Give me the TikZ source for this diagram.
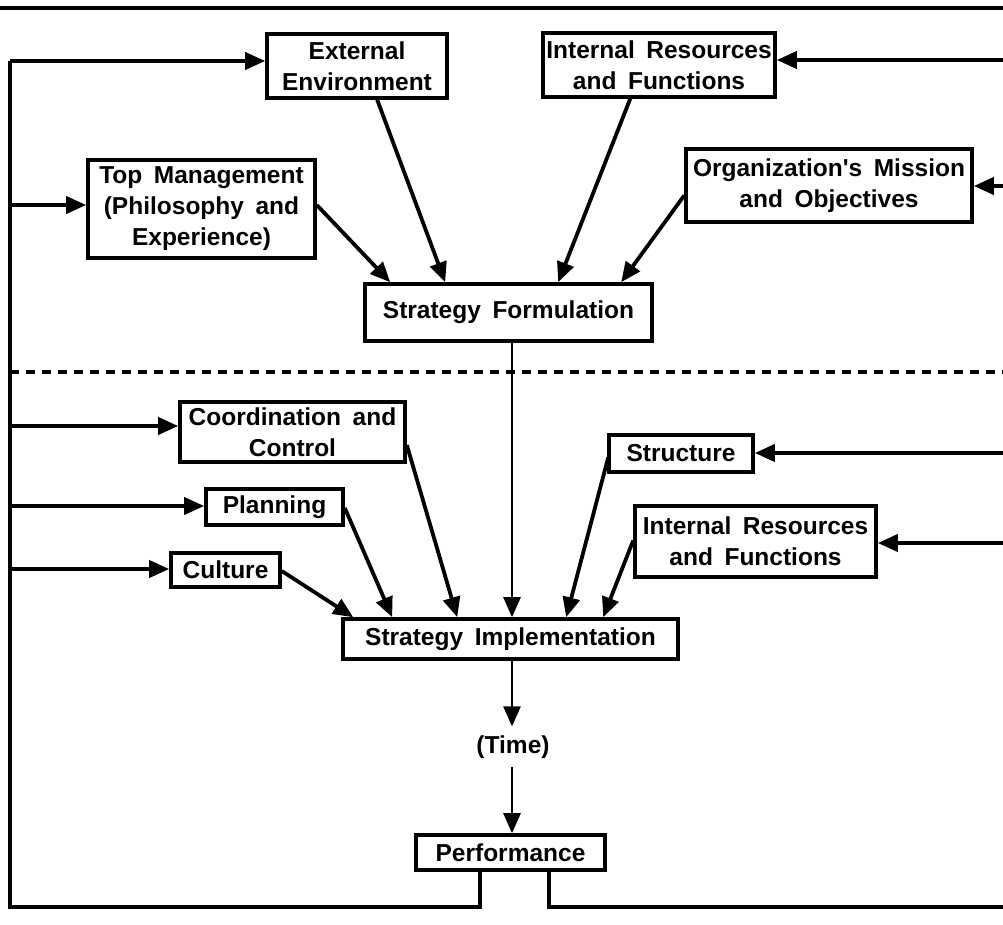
\documentclass[tikz,border=0pt]{standalone}
\usepackage{fontspec}
\setmainfont{Liberation Sans}[WordSpace=1.7]
\usetikzlibrary{arrows.meta,calc}
\begin{document}
\begin{tikzpicture}[x=1pt,y=-1pt,
  box/.style={draw,line width=3.6pt,inner sep=0pt,align=center,
    font=\bfseries\fontsize{24.5}{31}\selectfont},
  lbl/.style={inner sep=0pt,font=\bfseries\fontsize{24.5}{31}\selectfont},
  tip/.style={-{Triangle[length=20pt,width=17pt]}},
  arr/.style={line width=3.8pt,tip},
  wire/.style={line width=3.8pt},
  thin/.style={line width=2.6pt}]
\useasboundingbox (0,0) rectangle (1003,925);

% rule under the heading
\draw[line width=4pt] (0,8) -- (1003,8);

% boxes of the formulation stage
\node[box,minimum width=180pt,minimum height=64pt] (ext) at (357,66) {External\\Environment};
\node[box,minimum width=232pt,minimum height=64pt] (intT) at (659,65) {Internal Resources\\and Functions};
\node[box,minimum width=227pt,minimum height=98pt] (topm) at (201.5,209) {Top Management\\(Philosophy and\\Experience)};
\node[box,minimum width=286pt,minimum height=73pt] (miss) at (829,185.5) {Organization\textquotesingle s Mission\\and Objectives};
\node[box,minimum width=287pt,minimum height=57pt] (sf) at (508.5,312.5) {Strategy Formulation};

% boxes of the implementation stage
\node[box,minimum width=225pt,minimum height=60pt] (coord) at (292.5,432) {Coordination and\\Control};
\node[box,minimum width=137pt,minimum height=36pt] (plan) at (274.5,507) {Planning};
\node[box,minimum width=109pt,minimum height=34pt] (cult) at (225.5,570) {Culture};
\node[box,minimum width=144pt,minimum height=37pt] (struct) at (681,453.5) {Structure};
\node[box,minimum width=241pt,minimum height=71pt] (intB) at (755.5,541.5) {Internal Resources\\and Functions};
\node[box,minimum width=335pt,minimum height=40pt] (si) at (510.5,639) {Strategy Implementation};
\node[lbl] (time) at (513,747) {(Time)};
\node[box,minimum width=189pt,minimum height=35pt] (perf) at (510.5,852.5) {Performance};

% stage divider
\draw[line width=3.2pt,dash pattern=on 9pt off 7pt] (10,372) -- (1003,372);

% feedback loop corners
\coordinate (lt) at (10,61);
\coordinate (lb) at (10,907);
\coordinate (pl) at (480,907);
\coordinate (pr) at (549,907);
\coordinate (rb) at (1003,907);
\coordinate (r1) at (1003,60);
\coordinate (r2) at (1003,186);
\coordinate (r3) at (1003,453);
\coordinate (r4) at (1003,543);

\draw[wire] (perf.south -| pl) -- (pl) -- (lb) -- (lt);
\draw[wire] (perf.south -| pr) -- (pr) -- (rb);
\draw[arr] (lt) -- (lt -| ext.west);
\draw[arr] (10,205) -- (topm.west |- 10,205);
\draw[arr] (10,426) -- (coord.west |- 10,426);
\draw[arr] (10,506) -- (plan.west |- 10,506);
\draw[arr] (10,569) -- (cult.west |- 10,569);
\draw[arr] (r1) -- (r1 -| intT.east);
\draw[arr] (r2) -- (r2 -| miss.east);
\draw[arr] (r3) -- (r3 -| struct.east);
\draw[arr] (r4) -- (r4 -| intB.east);

% inputs to formulation
\draw[arr] ($(topm.east)+(0,-4)$) -- ($(sf.north west)+(27,0)$);
\draw[arr] ($(ext.south west)+(112,0)$) -- ($(sf.north west)+(82,0)$);
\draw[arr] ($(intT.south west)+(89,0)$) -- ($(sf.north west)+(195,0)$);
\draw[arr] ($(miss.west)+(0,10)$) -- ($(sf.north west)+(258,0)$);

% formulation feeds implementation
\draw[thin,tip] (sf.south -| 512,0) -- (si.north -| 512,0);

% inputs to implementation
\draw[arr] ($(cult.east)+(0,1)$) -- ($(si.north west)+(12,0)$);
\draw[arr] ($(plan.east)+(0,1)$) -- ($(si.north west)+(51,0)$);
\draw[arr] ($(coord.east)+(0,13)$) -- ($(si.north west)+(116,0)$);
\draw[arr] ($(struct.west)+(1,4)$) -- ($(si.north west)+(225,0)$);
\draw[arr] ($(intB.west)+(0,-1)$) -- ($(si.north west)+(262,0)$);

% implementation over time yields performance
\draw[thin,tip] (si.south -| 512,0) -- ($(time.north -| 512,0)+(0,-9)$);
\draw[thin,tip] ($(time.south -| 512,0)+(0,8)$) -- (perf.north -| 512,0);
\end{tikzpicture}
\end{document}
